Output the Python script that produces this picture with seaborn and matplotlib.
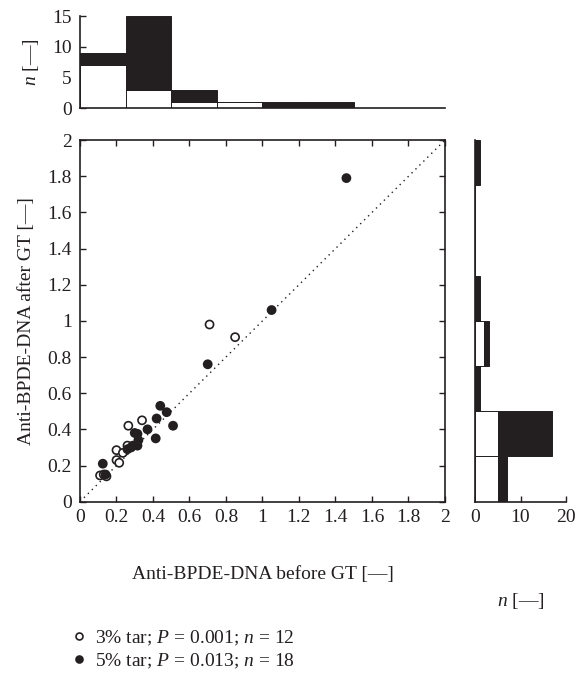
import numpy as np
import pandas as pd
import seaborn as sns
import matplotlib.pyplot as plt
from matplotlib.lines import Line2D

sns.set_style("ticks")
plt.rcParams['font.family'] = ['Liberation Serif', 'DejaVu Serif']
plt.rcParams['mathtext.fontset'] = 'custom'
plt.rcParams['mathtext.rm'] = 'Liberation Serif'
plt.rcParams['mathtext.it'] = 'Liberation Serif:italic'

INK = '#231f20'

# anti-BPDE-DNA before / after GT
before_3 = [0.71, 0.85, 0.34, 0.265, 0.26, 0.20, 0.235, 0.20, 0.215, 0.11, 0.13, 0.145]
after_3 = [0.98, 0.91, 0.45, 0.42, 0.31, 0.285, 0.27, 0.23, 0.215, 0.145, 0.15, 0.14]
before_5 = [1.46, 1.05, 0.70, 0.44, 0.475, 0.42, 0.51, 0.37, 0.415, 0.30, 0.315,
            0.32, 0.315, 0.28, 0.26, 0.29, 0.125, 0.14]
after_5 = [1.79, 1.06, 0.76, 0.53, 0.495, 0.46, 0.42, 0.40, 0.35, 0.38, 0.375,
           0.34, 0.31, 0.30, 0.29, 0.31, 0.21, 0.15]
groups = ['3% tar', '5% tar']
labels = ['3% tar; $P$ = 0.001; $n$ = 12', '5% tar; $P$ = 0.013; $n$ = 18']
bin_edges = [0, 0.25, 0.5, 0.75, 1.0, 1.25, 1.5, 1.75, 2.0]
tick_labels = ['0', '0.2', '0.4', '0.6', '0.8', '1', '1.2', '1.4', '1.6', '1.8', '2']

df = pd.DataFrame({
    'before': before_3 + before_5,
    'after': after_3 + after_5,
    'group': [groups[0]] * len(before_3) + [groups[1]] * len(before_5),
})
palette = {groups[0]: 'white', groups[1]: INK}

fig = plt.figure(figsize=(5.83, 6.77), dpi=100)
ax = fig.add_axes([0.1372, 0.259, 0.626, 0.534])
ax_top = fig.add_axes([0.1372, 0.840, 0.626, 0.1363])
ax_right = fig.add_axes([0.8148, 0.259, 0.156, 0.534])

fs = 14


def style_spines(a):
    for s in a.spines.values():
        s.set_color(INK)
        s.set_linewidth(1.2)


# scatter
ax.axline((0, 0), slope=1, color=INK, linestyle=(0, (1, 3)), linewidth=1)
sns.scatterplot(data=df, x='before', y='after', hue='group', palette=palette,
                edgecolor=INK, linewidth=1.2, s=34, legend=False, ax=ax, zorder=3)
ax.set_xlim(0, 2)
ax.set_ylim(0, 2)
ax.set_xticks(np.arange(0, 2.01, 0.2))
ax.set_yticks(np.arange(0, 2.01, 0.2))
ax.set_xticklabels(tick_labels)
ax.set_yticklabels(tick_labels)
ax.tick_params(direction='in', top=True, right=True, length=4, width=1,
               labelsize=fs, colors=INK)
ax.tick_params(axis='x', pad=5)
ax.tick_params(axis='y', pad=6)
ax.set_xlabel('Anti-BPDE-DNA before GT [—]', fontsize=fs, color=INK, labelpad=29)
ax.set_ylabel('Anti-BPDE-DNA after GT [—]', fontsize=fs, color=INK, labelpad=9)
style_spines(ax)

# top histogram
sns.histplot(data=df, x='before', hue='group', hue_order=groups[::-1],
             multiple='stack', bins=bin_edges, palette=palette, alpha=1,
             edgecolor=INK, linewidth=0.7, legend=False, ax=ax_top)
ax_top.set_xlim(0, 2)
ax_top.set_ylim(0, 15)
ax_top.set_yticks([0, 5, 10, 15])
ax_top.set_xticks([])
ax_top.set_xlabel('')
ax_top.set_ylabel('$n$ [—]', fontsize=fs, color=INK, labelpad=8)
ax_top.tick_params(direction='in', length=4, width=1, labelsize=fs, colors=INK, pad=6)
sns.despine(ax=ax_top)
style_spines(ax_top)

# right histogram
sns.histplot(data=df, y='after', hue='group', hue_order=groups[::-1],
             multiple='stack', bins=bin_edges, palette=palette, alpha=1,
             edgecolor=INK, linewidth=0.7, legend=False, ax=ax_right)
ax_right.set_ylim(0, 2)
ax_right.set_xlim(0, 20)
ax_right.set_xticks([0, 10, 20])
ax_right.set_yticks([])
ax_right.set_ylabel('')
ax_right.set_xlabel('$n$ [—]', fontsize=fs, color=INK, labelpad=47)
ax_right.tick_params(direction='in', length=4, width=1, labelsize=fs, colors=INK, pad=5)
sns.despine(ax=ax_right)
style_spines(ax_right)

# legend under the chart
handles = [Line2D([], [], marker='o', linestyle='', markersize=5,
                  markerfacecolor=palette[g], markeredgecolor=INK, markeredgewidth=1.2)
           for g in groups]
fig.legend(handles, labels, loc='upper left', bbox_to_anchor=(0.105, 0.083),
           frameon=False, fontsize=fs, handletextpad=0.35, handlelength=1.0,
           labelspacing=0.2, borderaxespad=0, labelcolor=INK)

fig.savefig('out.png', dpi=100)
